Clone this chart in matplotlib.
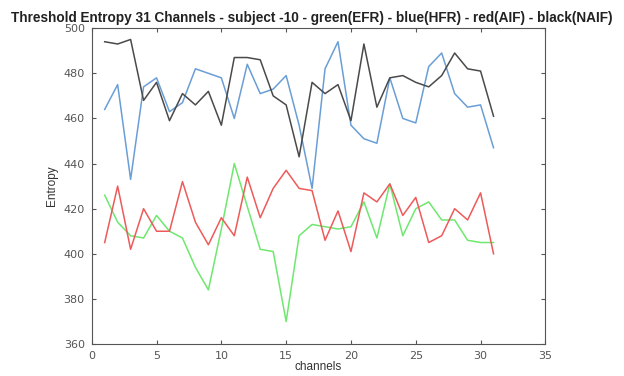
import matplotlib
matplotlib.use("Agg")
import matplotlib.pyplot as plt
import numpy as np

# channel index 1..31
channels = np.arange(1, 32)

# green (EFR)
efr = [426, 414, 408, 407, 417, 410, 407, 394, 384, 411, 440, 421, 402, 401, 370,
       408, 413, 412, 411, 412, 423, 407, 431, 408, 420, 423, 415, 415, 406, 405, 405]
# blue (HFR)
hfr = [464, 475, 433, 474, 478, 463, 467, 482, 480, 478, 460, 484, 471, 473, 479,
       457, 429, 482, 494, 457, 451, 449, 478, 460, 458, 483, 489, 471, 465, 466, 447]
# red (AIF)
aif = [405, 430, 402, 420, 410, 410, 432, 414, 404, 416, 408, 434, 416, 429, 437,
       429, 428, 406, 419, 401, 427, 423, 431, 417, 425, 405, 408, 420, 415, 427, 400]
# black (NAIF)
naif = [494, 493, 495, 468, 476, 459, 471, 466, 472, 457, 487, 487, 486, 470, 466,
        443, 476, 471, 475, 459, 493, 465, 478, 479, 476, 474, 479, 489, 482, 481, 461]

fig = plt.figure(figsize=(6.24, 3.76), dpi=100)
ax = fig.add_axes([0.147, 0.085, 0.727, 0.84])

ax.plot(channels, efr, color="#6ee86e", lw=1.1)
ax.plot(channels, hfr, color="#6a9ed6", lw=1.1)
ax.plot(channels, aif, color="#ee5a5a", lw=1.1)
ax.plot(channels, naif, color="#4a4a4a", lw=1.1)

ax.set_xlim(0, 35)
ax.set_ylim(360, 500)
ax.set_xticks(np.arange(0, 36, 5))
ax.set_yticks(np.arange(360, 501, 20))

ax.tick_params(direction="in", top=True, right=True, length=3,
               labelsize=8, colors="#555555", labelcolor="#555555")
ax.tick_params(axis="x", pad=5)
ax.tick_params(axis="y", pad=5)
for s in ax.spines.values():
    s.set_color("#555555")
    s.set_linewidth(0.8)

ax.set_xlabel("channels", fontsize=8.5, color="#333333", labelpad=0,
              family="Liberation Sans")
ax.set_ylabel("Entropy", fontsize=8.5, color="#333333", labelpad=4,
              family="Liberation Sans")

fig.text(0.5, 0.952,
         "Threshold Entropy 31 Channels - subject -10 - green(EFR) - blue(HFR) - red(AIF) - black(NAIF)",
         ha="center", va="center", fontsize=9.8, fontweight="bold",
         family="Liberation Sans", color="#222222")

fig.savefig("out.png", dpi=100)
